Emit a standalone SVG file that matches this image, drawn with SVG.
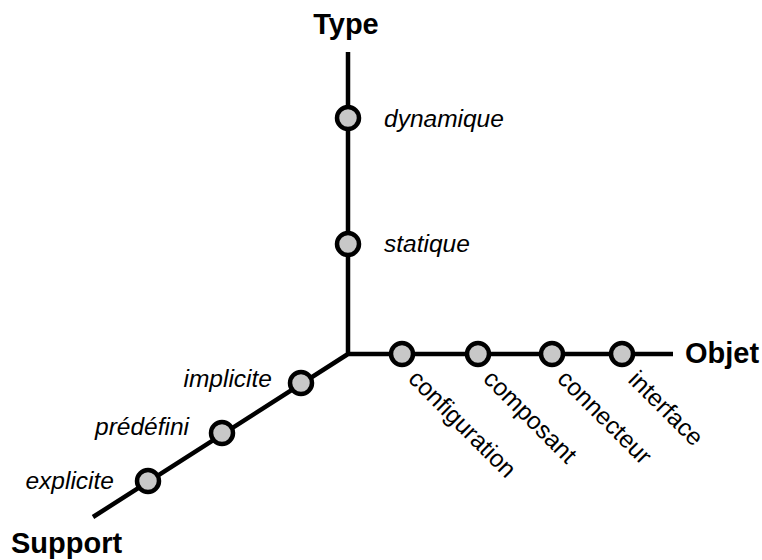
<svg xmlns="http://www.w3.org/2000/svg" width="762" height="560" viewBox="0 0 762 560">
<style>
.axis{stroke:#000;stroke-width:4.5;fill:none;stroke-linecap:butt;stroke-linejoin:miter}
.pt{fill:#c8c8c8;stroke:#000;stroke-width:4.5}
.title{font-family:"Liberation Sans",Arial,sans-serif;font-weight:bold;font-size:29px;fill:#000}
.it{font-family:"Liberation Sans",Arial,sans-serif;font-style:italic;font-size:24.5px;fill:#000}
.rt{font-family:"Liberation Sans",Arial,sans-serif;font-size:24.5px;fill:#000}
</style>
<rect width="762" height="560" fill="#fff"/>
<g id="connectors">
<path class="axis" d="M348,52 L348,354 L673,354 M348,354 L93,517"/>
</g>
<g id="axis-type"><text class="title" x="346" y="34" text-anchor="middle">Type</text></g>
<g id="axis-objet"><text class="title" x="685" y="363">Objet</text></g>
<g id="axis-support"><text class="title" x="11" y="553">Support</text></g>
<g id="dynamique"><circle class="pt" cx="348" cy="118" r="11"/><text class="it" x="384" y="127">dynamique</text></g>
<g id="statique"><circle class="pt" cx="348" cy="244" r="11"/><text class="it" x="384" y="252">statique</text></g>
<g id="implicite"><circle class="pt" cx="301" cy="383" r="11"/><text class="it" x="272" y="387" text-anchor="end">implicite</text></g>
<g id="predefini"><circle class="pt" cx="222" cy="433" r="11"/><text class="it" x="189" y="435" text-anchor="end">prédéfini</text></g>
<g id="explicite"><circle class="pt" cx="148" cy="481" r="11"/><text class="it" x="114" y="489" text-anchor="end">explicite</text></g>
<g id="configuration"><circle class="pt" cx="402" cy="354" r="11"/><text class="rt" transform="translate(407,380) rotate(45)">configuration</text></g>
<g id="composant"><circle class="pt" cx="478" cy="354" r="11"/><text class="rt" transform="translate(482,380) rotate(45)">composant</text></g>
<g id="connecteur"><circle class="pt" cx="552" cy="354" r="11"/><text class="rt" transform="translate(556,380) rotate(45)">connecteur</text></g>
<g id="interface"><circle class="pt" cx="622" cy="354" r="11"/><text class="rt" transform="translate(627,381) rotate(45)">interface</text></g>
</svg>
